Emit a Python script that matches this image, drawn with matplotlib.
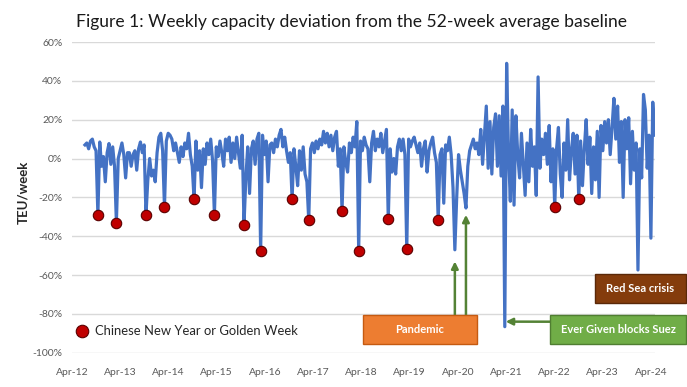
import numpy as np
import pandas as pd
import matplotlib
matplotlib.use('Agg')
import matplotlib.pyplot as plt
from matplotlib.patches import Rectangle

# fortnightly capacity deviation (%), starting July 2012
start_date = '2012-07-08'
deviation = [
    7, 8, 5, 9, 10, 6, 4, -29, 8.5, -4,
    1, -12, 3, 7.7, -3, 6, -4, -33, 0, 4,
    8, 2, -10, 3, 3, -4, 2, 4, -6, 5,
    8.5, 3, 7, -29, -11, 0, -9, -6, -12, 3,
    11, 13, 4, -25, 9, 13, 12, 10, 4, 8,
    3, -2, 6, 1, 8, 5, 13, 2, -4, -21,
    9, -6, 4, -15, 5, -3, 8, 2, 10, -1,
    -29, 6, 1, 9, 3, -4, 10, 4, 11, -2,
    8, 0, 11, 3, -5, 12, -34, -10, 6, -18,
    5, 9, -3, 10, 13, -47.6, 12, 2, 9, -12,
    7, 8, 3, 10, 6, 12, 15, 6, 11, 4,
    -2, 3, -21, 5, -4, -14, 4, -6, 6, -8,
    -12, -31.7, 5, 8, 3, 9, 5, 10, 7, 14,
    8, 13, 6, 12, 4, 11, 14, -4, 5, -27,
    6, -2, -7, 8, 3, 11, 6, 19, -47.6, 9,
    4, 11, 7, 5, -12, 8, 14, 4, 10, 6,
    13, 3, 9, 15, -31.3, 5, -7, 0, -8, 6,
    10, 4, 10, 2, -46.6, 10, 6, 9, 11, 7,
    3, 8, -4, 5, 9, -7, 4, 8, 11, 3,
    -2, -31.7, 2, 5, -23, 7, 4, 11, 2, -15,
    -47, -20, 2, -6, -12, -18, -25.5, -4, 4, 7,
    10, 5, 8, 2, 15, -3, 12, 27, -5, 19,
    -8, 16, 23, -4, 22, -9, 27, -86.6, 49, 3,
    -22, 25, -24, 22, 2, -10, 13, -3, -19, 8,
    -12, 15, -4, 6, -19, 42, -5, 10, 2, 13,
    -3, 17, -12, 5, -25, 5, 16, -8, -20, 8,
    -6, 20, -11, 4, 13, -8, 12, -21, 9, -14,
    5, 20, -3, 11, -18, 6, -11, 14, -20, 17,
    4, 19, 8, 20, 2, 16, 31, 10, 27, -2,
    19, -20, 20, 5, 21, -13, 14, -6, 8, -57.4,
    5, -10, 33, 25, -5, 12, -41, 29, 12,
]
# points that fall on Chinese New Year / Golden Week
cny_idx = [7, 17, 33, 43, 59, 70, 86, 95, 112, 121, 139, 148, 164, 174, 191, 254, 267]
# points the arrows point at
pandemic_idx = [200, 206]
suez_idx = 227

tick_years = list(range(2012, 2025))
tick_labels = ['Apr-%02d' % (y % 100) for y in tick_years]
y_ticks = list(range(-100, 61, 20))

events = ['Pandemic', 'Ever Given blocks Suez', 'Red Sea crisis']
event_colors = ['#ED7D31', '#70AD47', '#843C0C']
event_edges = ['#C55A11', '#507E32', '#5A2808']

dates = pd.date_range(start_date, periods=len(deviation), freq='14D')
dev = np.array(deviation)

plt.rcParams['font.family'] = ['Lato', 'DejaVu Sans']

W, H = 687, 387
fig = plt.figure(figsize=(W / 100, H / 100), dpi=100)
ax = fig.add_axes([72 / W, 1 - 352.7 / H, (655 - 72) / W, (352.7 - 42) / H])

ax.plot(dates, dev, color='#4472C4', lw=2.3, zorder=3)
ax.plot(dates[cny_idx], dev[cny_idx], 'o', ms=7.5, mfc='#C00000',
        mec='#5A0000', mew=0.8, zorder=4)

ax.set_ylim(-100, 60)
ax.set_yticks(y_ticks)
ax.set_yticklabels(['%d%%' % v for v in y_ticks])
ax.set_xticks([pd.Timestamp(y, 4, 1) for y in tick_years])
ax.set_xticklabels(tick_labels)
ax.set_xlim(pd.Timestamp(2012, 4, 1), pd.Timestamp(2024, 5, 1))
ax.grid(axis='y', color='#D9D9D9', lw=1)
ax.set_axisbelow(True)
for s in ax.spines.values():
    s.set_visible(False)
ax.tick_params(axis='both', length=0, labelsize=7.5, colors='#595959')
ax.tick_params(axis='x', pad=11)
ax.tick_params(axis='y', pad=7)

fig.text(351 / W, 1 - 22 / H, 'Figure 1: Weekly capacity deviation from the 52-week average baseline',
         ha='center', va='center', fontsize=12.6, color='#1A1A1A')
fig.text(23 / W, 1 - 192 / H, 'TEU/week', rotation=90, ha='center', va='center',
         fontsize=9.5, fontweight='bold', color='#262626')

# legend-like note
ax.plot([82 / W], [1 - 331 / H], 'o', ms=9, mfc='#C00000', mec='#5A0000', mew=0.8,
        transform=fig.transFigure, clip_on=False)
fig.text(95 / W, 1 - 331 / H, 'Chinese New Year or Golden Week', ha='left', va='center',
         fontsize=9.4, color='#262626')

# event boxes (pixel positions)
event_boxes = [(363, 315, 477, 344), (550, 315, 686, 344), (595, 274, 686, 303)]
for name, fc, ec, (x0, y0, x1, y1) in zip(events, event_colors, event_edges, event_boxes):
    fig.patches.append(Rectangle((x0 / W, 1 - y1 / H), (x1 - x0) / W, (y1 - y0) / H,
                                 transform=fig.transFigure, fc=fc, ec=ec, lw=1, zorder=5))
    fig.text((x0 + x1) / 2 / W, 1 - (y0 + y1) / 2 / H, name, ha='center', va='center',
             fontsize=8, fontweight='bold', color='white', zorder=6)

arrow = dict(arrowstyle='-|>', color='#548235', lw=1.8, mutation_scale=10, shrinkA=0, shrinkB=0)
ax.annotate('', xy=(dates[pandemic_idx[0]], -53), xytext=(dates[pandemic_idx[0]], -81),
            arrowprops=arrow, annotation_clip=False)
ax.annotate('', xy=(dates[pandemic_idx[1]], -29), xytext=(dates[pandemic_idx[1]], -81),
            arrowprops=arrow, annotation_clip=False)
ax.annotate('', xy=(dates[suez_idx] + pd.Timedelta(days=7), -84), xytext=(550 / W, 1 - 321.7 / H),
            textcoords='figure fraction', arrowprops=arrow, annotation_clip=False)

fig.savefig('out.png', dpi=100)
